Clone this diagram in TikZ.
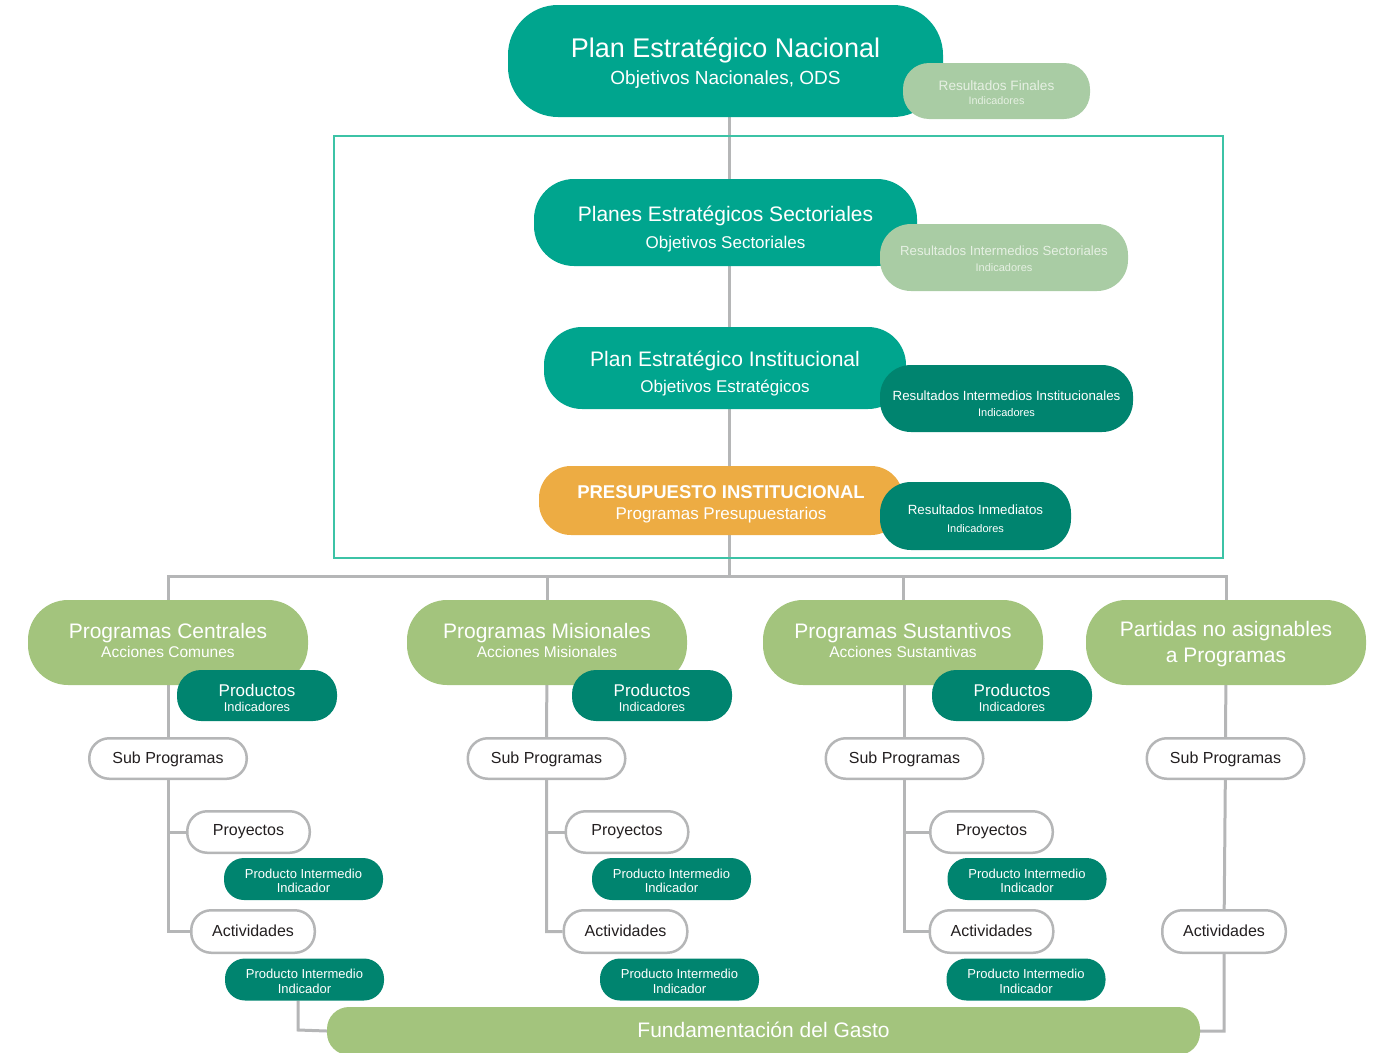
\documentclass[tikz,border=0pt]{standalone}
\usepackage{fontspec}
\setmainfont{Liberation Sans}
\usetikzlibrary{backgrounds}
\definecolor{tealA}{HTML}{00A58E}
\definecolor{tealB}{HTML}{00846F}
\definecolor{sage}{HTML}{A9CCA4}
\definecolor{paletext}{HTML}{E6F0E3}
\definecolor{olive}{HTML}{A3C47D}
\definecolor{amber}{HTML}{EDAC43}
\definecolor{linegray}{HTML}{B5B6B7}
\definecolor{framecol}{HTML}{3CC3A6}
\definecolor{ink}{HTML}{231F20}
\newcommand\fs[2]{\fontsize{#1}{#2}\selectfont}

\begin{document}
\begin{tikzpicture}[
		x=1pt, y=-1pt,
		rise/.style={text height=#1, text depth=0pt},
		box/.style={inner sep=0pt, align=center, text=white, rise=0pt},
		plan/.style={box, fill=tealA},
		result/.style={box, fill=sage, text=paletext},
		resultdk/.style={box, fill=tealB},
		budget/.style={box, fill=amber},
		program/.style={box, fill=olive, minimum width=280pt, minimum height=85pt, rounded corners=40pt},
		product/.style={box, fill=tealB, minimum width=160pt, minimum height=51pt, rounded corners=24pt, font=\fs{17}{15}, rise=32.4pt},
		level/.style={box, fill=white, draw=linegray, line width=2.5pt, text=ink, font=\fs{16}{16}, rounded corners=20pt},
		interm/.style={box, fill=tealB, minimum width=159pt, minimum height=42pt, rounded corners=20pt, font=\fs{13}{14.4}, rise=27pt},
		link/.style={draw=linegray, line width=3pt}
	]

	\useasboundingbox (0,0) rectangle (1386,1052);

	% top of the chain
	\node[plan, minimum width=435pt, minimum height=112pt, rounded corners=50pt, font=\fs{27}{26.5}, rise=46pt] (pen) at (725.5,61)
		{Plan Estratégico Nacional\\{\fs{19}{19}Objetivos Nacionales, ODS}};
	\node[result, minimum width=187pt, minimum height=56pt, rounded corners=26pt, font=\fs{13.6}{13.5}, rise=26pt] (rfin) at (996.5,91)
		{Resultados Finales\\{\fs{10.8}{11}Indicadores}};

	\draw[framecol, line width=1.2pt] (334,136) rectangle (1223,558);

	\node[plan, minimum width=383pt, minimum height=87pt, rounded corners=40pt, font=\fs{21}{26.5}, rise=51.6pt] (pes) at (725.5,222.5)
		{Planes Estratégicos Sectoriales\\{\fs{17}{17}Objetivos Sectoriales}};
	\node[result, minimum width=248pt, minimum height=67pt, rounded corners=31pt, font=\fs{13.2}{16}, rise=27pt] (ris) at (1004,257.5)
		{Resultados Intermedios Sectoriales\\{\fs{11}{11}Indicadores}};

	\node[plan, minimum width=362pt, minimum height=82pt, rounded corners=38pt, font=\fs{21}{25.7}, rise=48.6pt] (pei) at (725,368)
		{Plan Estratégico Institucional\\{\fs{17}{17}Objetivos Estratégicos}};
	\node[resultdk, minimum width=253pt, minimum height=67pt, rounded corners=31pt, font=\fs{13.3}{16}, rise=36.4pt] (rii) at (1006.5,398.5)
		{Resultados Intermedios Institucionales\\{\fs{11}{11}Indicadores}};

	\node[budget, minimum width=364pt, minimum height=69pt, rounded corners=32pt, font=\fs{18.5}{21}, rise=38.4pt] (pres) at (721,500.5)
		{\bfseries PRESUPUESTO INSTITUCIONAL\\{\fs{17}{17}Programas Presupuestarios}};
	\node[resultdk, minimum width=191pt, minimum height=68pt, rounded corners=31pt, font=\fs{13.3}{17.6}, rise=32.6pt] (rinm) at (975.5,516)
		{Resultados Inmediatos\\{\fs{11}{11}Indicadores}};

	% programas
	\node[program, font=\fs{21}{19.4}, rise=30.4pt] (cen) at (168,642.5) {Programas Centrales\\{\fs{15.5}{15}Acciones Comunes}};
	\node[program, font=\fs{21}{19.4}, rise=30.4pt] (mis) at (547,642.5) {Programas Misionales\\{\fs{15.5}{15}Acciones Misionales}};
	\node[program, font=\fs{21}{19.4}, rise=30.4pt] (sus) at (903,642.5) {Programas Sustantivos\\{\fs{15.5}{15}Acciones Sustantivas}};
	\node[program, font=\fs{21}{26}, rise=40pt] (par) at (1226,642.5) {Partidas no asignables\\a Programas};

	\node[product] (prodc) at (257,695.5) {Productos\\{\fs{12.8}{13}Indicadores}};
	\node[product] (prodm) at (652,695.5) {Productos\\{\fs{12.8}{13}Indicadores}};
	\node[product] (prods) at (1012,695.5) {Productos\\{\fs{12.8}{13}Indicadores}};

	\node[level, minimum width=157.5pt, minimum height=40.5pt, rise=9.6pt] (subc) at (168,758.5) {Sub Programas};
	\node[level, minimum width=157.5pt, minimum height=40.5pt, rise=9.6pt] (subm) at (546.5,758.5) {Sub Programas};
	\node[level, minimum width=157.5pt, minimum height=40.5pt, rise=9.6pt] (subs) at (904.5,758.5) {Sub Programas};
	\node[level, minimum width=157.5pt, minimum height=40.5pt, rise=9.6pt] (subp) at (1225.5,758.5) {Sub Programas};

	\node[level, minimum width=122.5pt, minimum height=41.5pt, rise=7.4pt] (proc) at (248.5,832) {Proyectos};
	\node[level, minimum width=122.5pt, minimum height=41.5pt, rise=7.4pt] (prom) at (627,832) {Proyectos};
	\node[level, minimum width=122.5pt, minimum height=41.5pt, rise=7.4pt] (pros) at (991.5,832) {Proyectos};

	\node[interm] (pipc) at (303.5,879) {Producto Intermedio\\Indicador};
	\node[interm] (pipm) at (671.5,879) {Producto Intermedio\\Indicador};
	\node[interm] (pips) at (1027,879) {Producto Intermedio\\Indicador};

	\node[level, minimum width=123.5pt, minimum height=42.5pt, rise=10.4pt] (actc) at (253,931.5) {Actividades};
	\node[level, minimum width=123.5pt, minimum height=42.5pt, rise=10.4pt] (actm) at (625.5,931.5) {Actividades};
	\node[level, minimum width=123.5pt, minimum height=42.5pt, rise=10.4pt] (acts) at (991.5,931.5) {Actividades};
	\node[level, minimum width=123.5pt, minimum height=42.5pt, rise=10.4pt] (actp) at (1224,931.5) {Actividades};

	\node[interm] (piac) at (304.5,979.5) {Producto Intermedio\\Indicador};
	\node[interm] (piam) at (679.5,979.5) {Producto Intermedio\\Indicador};
	\node[interm] (pias) at (1026,979.5) {Producto Intermedio\\Indicador};

	\node[box, fill=olive, minimum width=873pt, minimum height=48pt, rounded corners=22pt, font=\fs{21}{21}, rise=13pt] (fund) at (763.5,1031)
		{Fundamentación del Gasto};

	% connectors behind the boxes
	\coordinate (bus) at (729,576);
	\coordinate (tap) at (298,1030);
	\begin{scope}[on background layer]
		\draw[link] (pen.south -| bus) -- (bus);
		\draw[link] (cen) -- (cen |- bus) -- (par |- bus) -- (par);
		\draw[link] (mis) -- (mis |- bus);
		\draw[link] (sus) -- (sus |- bus);

		\draw[link] (cen) -- (subc) |- (actc.west);
		\draw[link] (subc |- proc) -- (proc.west);
		\draw[link] (mis) -- (subm) |- (actm.west);
		\draw[link] (subm |- prom) -- (prom.west);
		\draw[link] (subs |- sus) -- (subs) |- (acts.west);
		\draw[link] (subs |- pros) -- (pros.west);
		\draw[link] (par) -- (subp) -- (actp) |- (fund.east);

		\draw[link] (piac.south -| tap) -- (tap) -- (fund.west);
	\end{scope}
\end{tikzpicture}
\end{document}
